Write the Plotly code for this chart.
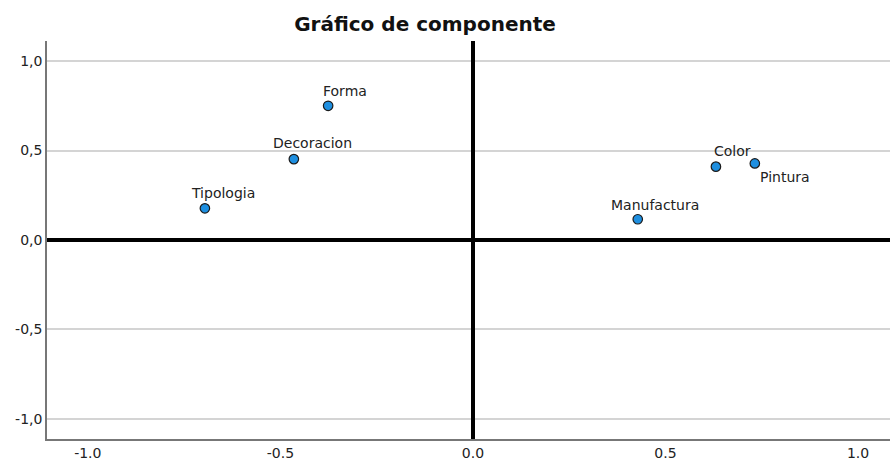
import plotly.graph_objects as go

# Data
variables = ["Forma", "Decoracion", "Tipologia", "Color", "Pintura", "Manufactura"]
comp1 = [-0.376, -0.465, -0.696, 0.631, 0.732, 0.428]
comp2 = [0.750, 0.452, 0.177, 0.410, 0.428, 0.116]

x_tickvals = [-1.0, -0.5, 0.0, 0.5, 1.0]
x_ticktext = ["-1.0", "-0.5", "0.0", "0.5", "1.0"]
y_tickvals = [1.0, 0.5, 0.0, -0.5, -1.0]
y_ticktext = ["1,0", "0,5", "0,0", "-0,5", "-1,0"]

title_text = "Gráfico de componente"

# label placement (pixel offsets relative to each point), style only
label_xshift = [17, 19, 18, 17, 30, 17]
label_yshift = [15, 16, 15, 16, -14, 14]

FONT = "DejaVu Sans"
W, H = 890, 461

fig = go.Figure()
fig.add_trace(go.Scatter(
    x=comp1, y=comp2, mode="markers",
    marker=dict(size=9.5, color="#1e8fe0", line=dict(color="#1a1a1a", width=1.2)),
    hoverinfo="text", text=variables, showlegend=False,
))

for name, xv, yv, dx, dy in zip(variables, comp1, comp2, label_xshift, label_yshift):
    fig.add_annotation(x=xv, y=yv, text=name, showarrow=False,
                       xshift=dx, yshift=dy, xanchor="center", yanchor="middle",
                       font=dict(family=FONT, size=14, color="#222222"))

fig.update_layout(
    width=W, height=H,
    margin=dict(l=47, r=0, t=41, b=22, autoexpand=False),
    paper_bgcolor="white", plot_bgcolor="white",
    title=dict(text="<b>" + title_text + "</b>", x=425 / W, xanchor="center",
               y=1 - 24 / H, yanchor="middle", yref="container", automargin=False,
               font=dict(family=FONT, size=20, color="#111111")),
    font=dict(family=FONT, size=14, color="#222222"),
)

fig.update_xaxes(
    range=[-1.106, 1.083], tickvals=x_tickvals, ticktext=x_ticktext,
    showgrid=False, zeroline=True, zerolinecolor="black", zerolinewidth=4,
    showline=True, linecolor="#777777", linewidth=1.5, ticks="",
    tickfont=dict(family=FONT, size=14, color="#222222"), fixedrange=True,
    automargin=False,
)
fig.update_yaxes(
    range=[-1.112, 1.112], tickvals=y_tickvals, ticktext=y_ticktext,
    showgrid=True, gridcolor="#d4d4d4", gridwidth=1.5,
    zeroline=True, zerolinecolor="black", zerolinewidth=4,
    showline=True, linecolor="#777777", linewidth=1.5, ticks="",
    tickfont=dict(family=FONT, size=14, color="#222222"), fixedrange=True,
    automargin=False,
)

# remove the browser's default 8px page margin so the figure fills the window
fig.write_html("out.html",
               config={"displayModeBar": False},
               post_script="document.body.style.margin='0';document.body.style.overflow='hidden';")
